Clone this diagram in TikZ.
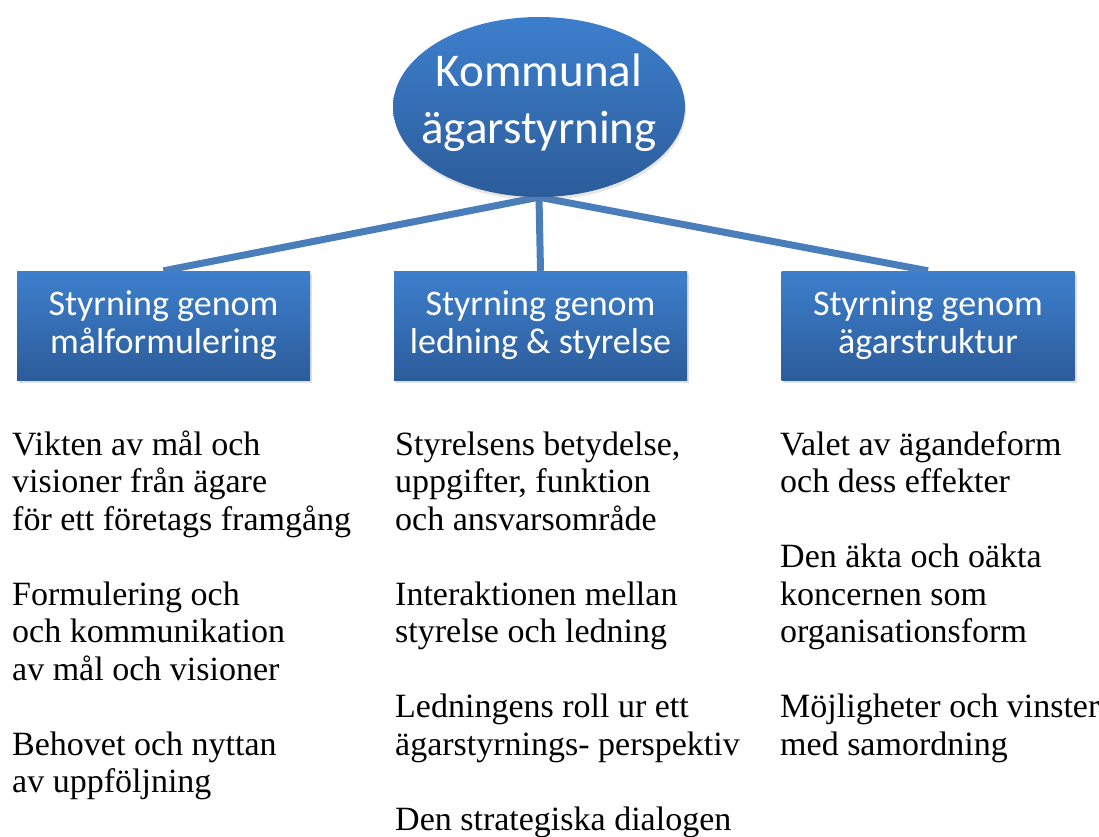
\documentclass[tikz,border=0pt]{standalone}
\usepackage{fontspec}
\setmainfont{Liberation Serif}
\newfontfamily\boxfont{Carlito}
\usetikzlibrary{shapes.geometric,shadows,backgrounds}
\definecolor{boxtop}{RGB}{61,127,205}
\definecolor{boxbottom}{RGB}{44,92,154}
\definecolor{linkblue}{RGB}{74,126,187}

\begin{document}
\begin{tikzpicture}[x=1pt,y=1pt,
  topic/.style={rectangle, top color=boxtop, bottom color=boxbottom, draw=none,
    minimum width=293pt, minimum height=109pt, inner sep=0pt, align=center,
    text=white, font=\boxfont\fontsize{36}{38}\selectfont,
    drop shadow={opacity=0.25, shadow xshift=2pt, shadow yshift=-3pt}},
  notes/.style={anchor=north west, inner sep=0pt, align=left,
    font=\fontsize{34}{37.5}\selectfont},
  link/.style={draw=linkblue, line width=7pt}]
\useasboundingbox (0,0) rectangle (1099,-836);

\node[ellipse, top color=boxtop, bottom color=boxbottom, minimum width=292pt, minimum height=180pt,
  inner sep=0pt, drop shadow={opacity=0.2, shadow xshift=1pt, shadow yshift=-3pt}] (top) at (539,-107) {};
\node[align=center, text=white, inner sep=0pt, font=\boxfont\fontsize{47}{57}\selectfont]
  (toptitle) at (539,-102.5) {Kommunal\\ägarstyrning};

\node[topic] (goal) at (163.5,-325.5) {Styrning genom\\målformulering};
\node[topic] (board) at (540.5,-325.5) {Styrning genom\\ledning \& styrelse};
\node[topic] (owner) at (928,-325.5) {Styrning genom\\ägarstruktur};

\begin{scope}[on background layer]
\draw[link] (top.south) -- (goal.north);
\draw[link] (top.south) -- (board.north);
\draw[link] (top.south) -- (owner.north);
\end{scope}

% first baseline at y = 455
\node[notes] (goalnotes) at (12,-428.75) {\strut Vikten av mål och\\visioner från ägare\\för ett företags framgång\\[37.5pt]
  Formulering och\\och kommunikation\\av mål och visioner\\[37.5pt]
  Behovet och nyttan\\av uppföljning};
\node[notes] (boardnotes) at (395,-428.75) {\strut Styrelsens betydelse,\\uppgifter, funktion\\och ansvarsområde\\[37.5pt]
  Interaktionen mellan\\styrelse och ledning\\[37.5pt]
  Ledningens roll ur ett\\ägarstyrnings- perspektiv\\[37.5pt]
  Den strategiska dialogen};
\node[notes] (ownernotes) at (780,-428.75) {\strut Valet av ägandeform\\och dess effekter\\[37.5pt]
  Den äkta och oäkta\\koncernen som\\organisationsform\\[37.5pt]
  Möjligheter och vinster\\med samordning};
\end{tikzpicture}
\end{document}
